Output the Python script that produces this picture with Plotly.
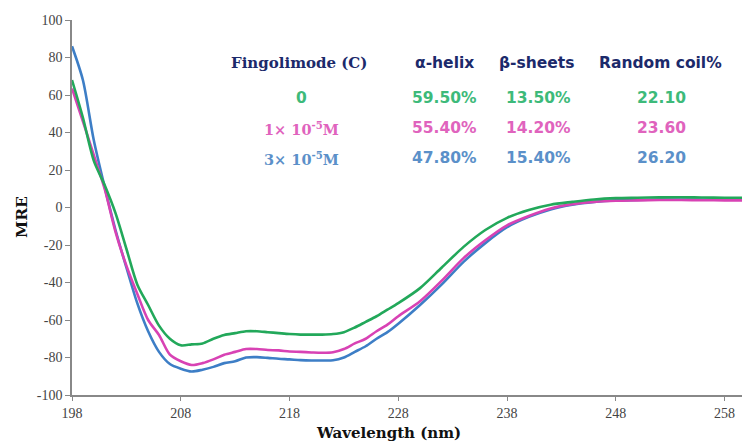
import plotly.graph_objects as go

# ---------------- data ----------------
wavelength = [198, 199, 200, 201, 202, 203, 204, 205, 206, 207, 208, 209, 210, 211, 212,
              213, 214, 215, 216, 217, 218, 219, 220, 221, 222, 223, 224, 225, 226, 227,
              228, 230, 232, 234, 236, 238, 240, 242, 244, 246, 248, 250, 252, 254, 256,
              258, 260]

mre_0 = [68, 48, 25, 12, -3, -22, -41, -52, -63, -70, -73.5, -73, -72.5, -70, -68,
         -67, -66, -66, -66.5, -67, -67.5, -67.8, -67.8, -67.8, -67.5, -66.5, -64, -61, -58, -54.5,
         -51, -43, -32, -21, -12, -5.5, -1.3, 1.5, 3, 4.3, 5, 5.2, 5.4, 5.5, 5.3,
         5.2, 5.2]

mre_1e5 = [63.5, 46, 28, 10, -13, -31, -46, -60, -68, -78.5, -82, -84, -83, -81, -78.5,
           -77, -75.5, -75.5, -76, -76.2, -76.8, -77, -77.3, -77.5, -77.2, -75.5, -72.5, -70, -66, -62.5,
           -58, -50, -39, -27, -17.5, -9.5, -4.5, -0.5, 1.8, 3, 3.6, 3.8, 4, 4, 3.9,
           3.8, 3.8]

mre_3e5 = [86, 68, 36, 11, -12, -32, -51, -66, -77, -83.5, -86, -87.5, -86.5, -85, -83,
           -82, -80, -79.8, -80.2, -80.7, -81, -81.4, -81.6, -81.6, -81.5, -80, -77, -74, -70, -66.5,
           -62, -52, -41, -29, -19, -10.5, -5, -1, 1.5, 3, 3.8, 4, 4.2, 4.2, 4.2,
           4.2, 4.2]

x_ticks = [198, 208, 218, 228, 238, 248, 258]
y_ticks = [-100, -80, -60, -40, -20, 0, 20, 40, 60, 80, 100]

table_header = ["Fingolimode (C)", "α-helix", "β-sheets", "Random coil%"]
conc_labels = ["0", "1× 10<sup>-5</sup>M", "3× 10<sup>-5</sup>M"]
alpha_helix = ["59.50%", "55.40%", "47.80%"]
beta_sheets = ["13.50%", "14.20%", "15.40%"]
random_coil = ["22.10", "23.60", "26.20"]

# ---------------- style ----------------
line_colors = ["#22a85a", "#d842b4", "#3d7ec6"]
text_colors = ["#3dba7a", "#e063bd", "#5b90c9"]
navy = "#1c2a6b"
serif = "Liberation Serif, Times New Roman, serif"
wserif = "DejaVu Serif, Georgia, serif"
sans = "DejaVu Sans, Verdana, sans-serif"

fig = go.Figure()
series = [mre_3e5, mre_1e5, mre_0]
cols = [line_colors[2], line_colors[1], line_colors[0]]
for ys, c in zip(series, cols):
    fig.add_trace(go.Scatter(x=wavelength, y=ys, mode="lines",
                             line=dict(color=c, width=2.6, shape="spline", smoothing=0.8),
                             showlegend=False, hoverinfo="skip"))

W, H = 742, 442
L, R, T, B = 72, 0, 20, 47
pw, ph = W - L - R, H - T - B


def px(xp):
    return (xp - L) / pw


def py(yp):
    return (H - B - yp) / ph


ann = []
# header
hx = [299, 444, 536, 660]
for i, (t, x) in enumerate(zip(table_header, hx)):
    ann.append(dict(x=px(x), y=py(63), text=f"<b>{t}</b>", showarrow=False,
                    xref="paper", yref="paper", xanchor="center", yanchor="middle",
                    font=dict(family=wserif if i == 0 else sans, size=15 if i == 0 else 15.5,
                              color=navy)))
rows_y = [98, 128, 158]
for r in range(3):
    col = text_colors[r]
    ann.append(dict(x=px(301), y=py(rows_y[r]), text=f"<b>{conc_labels[r]}</b>",
                    showarrow=False, xref="paper", yref="paper",
                    xanchor="center", yanchor="middle",
                    font=dict(family=sans if r == 0 else wserif, size=15.5 if r == 0 else 14.5,
                              color=col)))
    for x, vals in zip([444, 538, 661], [alpha_helix, beta_sheets, random_coil]):
        ann.append(dict(x=px(x), y=py(rows_y[r]), text=f"<b>{vals[r]}</b>",
                        showarrow=False, xref="paper", yref="paper",
                        xanchor="center", yanchor="middle",
                        font=dict(family=sans, size=15.5, color=col)))

# axis titles
ann.append(dict(x=px(21), y=py(217), text="<b>MRE</b>", textangle=-90, showarrow=False,
                xref="paper", yref="paper", xanchor="center", yanchor="middle",
                font=dict(family=wserif, size=15.5, color="#111")))
ann.append(dict(x=px(388), y=py(433), text="<b>Wavelength (nm)</b>", showarrow=False,
                xref="paper", yref="paper", xanchor="center", yanchor="middle",
                font=dict(family=wserif, size=15, color="#111")))

fig.update_layout(
    width=W, height=H,
    margin=dict(l=L, r=R, t=T, b=B, autoexpand=False),
    paper_bgcolor="white", plot_bgcolor="white",
    annotations=ann,
)
fig.update_xaxes(range=[198, 259.6], tickvals=x_ticks, ticks="outside", ticklen=4,
                 tickcolor="#888", showline=True, linecolor="#888", linewidth=1.5,
                 showgrid=False, zeroline=False, automargin=False,
                 tickfont=dict(family=serif, size=14, color="#444"))
fig.update_yaxes(range=[-100, 100], tickvals=y_ticks, ticktext=[str(v) for v in y_ticks],
                 ticks="outside", ticklen=5,
                 tickcolor="#888", showline=True, linecolor="#888", linewidth=1.5,
                 showgrid=False, zeroline=False, automargin=False,
                 tickfont=dict(family=serif, size=14, color="#444"))

fig.write_html("out.html", config={"displayModeBar": False},
               post_script="document.body.style.margin='0';document.body.style.overflow='hidden';")
